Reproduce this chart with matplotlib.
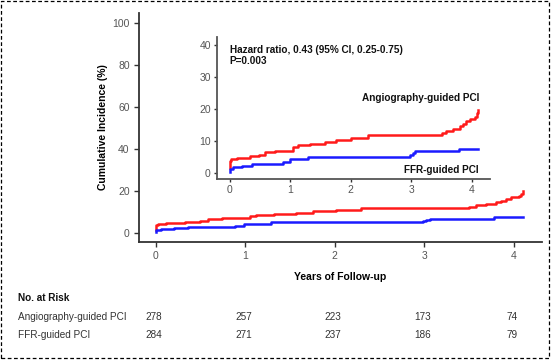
import matplotlib
matplotlib.use("Agg")
import matplotlib.pyplot as plt
from matplotlib.patches import Rectangle
import matplotlib.transforms as mtransforms

plt.rcParams['font.family'] = ['Liberation Sans', 'DejaVu Sans']

# Data
angio_t = [0.0, 0.0, 0.02, 0.12, 0.33, 0.49, 0.58, 0.74, 1.05, 1.12, 1.32, 1.57, 1.76,
           2.01, 2.29, 3.50, 3.58, 3.69, 3.80, 3.86, 3.91, 3.97, 4.06, 4.08, 4.10]
angio_v = [1.5, 3.8, 4.3, 4.8, 5.3, 5.6, 6.5, 7.0, 8.2, 8.8, 9.2, 9.7, 10.3,
           11.0, 11.8, 12.5, 13.1, 13.8, 14.6, 15.4, 16.2, 17.0, 17.4, 18.6, 19.8]
ffr_t = [0.0, 0.0, 0.06, 0.20, 0.36, 0.88, 0.99, 1.29, 2.98, 3.02, 3.06, 3.78, 4.10]
ffr_v = [0.4, 1.2, 1.8, 2.2, 2.8, 3.5, 4.3, 5.0, 5.6, 6.3, 6.7, 7.5, 7.5]

risk_times = [0, 1, 2, 3, 4]
risk_angio = [278, 257, 223, 173, 74]
risk_ffr = [284, 271, 237, 186, 79]
group_names = ["Angiography-guided PCI", "FFR-guided PCI"]

RED = "#ff1a1a"
BLUE = "#1a1aff"
TICKC = "#555555"
SPINEC = "#333333"

fig = plt.figure(figsize=(5.54, 3.60), dpi=100)

# dashed border
fig.patches.append(Rectangle((1/554, 2/360), 548/554, 357/360, transform=fig.transFigure,
                             fill=False, edgecolor="black", linestyle=(0, (3, 2)), linewidth=0.9))

def style(ax):
    for s in ("top", "right"):
        ax.spines[s].set_visible(False)
    for s in ("left", "bottom"):
        ax.spines[s].set_color(SPINEC)
        ax.spines[s].set_linewidth(1.3)
    ax.tick_params(axis="both", colors=SPINEC, labelcolor=TICKC, labelsize=7.5,
                   length=3.5, width=1.0, pad=3)

ax = fig.add_axes([138.7/554, 1-242/360, (541.7-138.7)/554, (242-13)/360])
ax.step(angio_t, angio_v, where="post", color=RED, lw=1.8)
ax.step(ffr_t, ffr_v, where="post", color=BLUE, lw=1.8)
ax.set_xlim(-0.19, 4.31)
ax.set_ylim(-4.3, 104.8)
ax.set_xticks([0, 1, 2, 3, 4])
ax.set_yticks([0, 20, 40, 60, 80, 100])
style(ax)
ax.set_ylabel("Cumulative Incidence (%)", fontsize=7.5, fontweight="bold", labelpad=3)
ax.set_xlabel("Years of Follow-up", fontsize=7.5, fontweight="bold", labelpad=8)

ins = fig.add_axes([217/554, 1-179/360, (490-217)/554, (179-37)/360])
ins.step(angio_t, angio_v, where="post", color=RED, lw=1.8)
ins.step(ffr_t, ffr_v, where="post", color=BLUE, lw=1.8)
ins.set_xlim(-0.21, 4.3)
ins.set_ylim(-1.9, 42.5)
ins.set_xticks([0, 1, 2, 3, 4])
ins.set_yticks([0, 10, 20, 30, 40])
style(ins)
ins.spines["left"].set_color("#555555")
ins.spines["bottom"].set_color("#555555")
ins.tick_params(length=2.5, pad=2)

ins.text(0.0, 38.5, "Hazard ratio, 0.43 (95% CI, 0.25-0.75)", fontsize=7.2, fontweight="bold",
         va="center", ha="left", color="#111111")
ins.text(0.0, 35.0, "P=0.003", fontsize=7.2, fontweight="bold", va="center", ha="left", color="#111111")
ins.text(4.12, 23.3, group_names[0], fontsize=7.2, fontweight="bold", va="center", ha="right", color="#111111")
ins.text(4.12, 1.0, group_names[1], fontsize=7.2, fontweight="bold", va="center", ha="right", color="#111111")

# risk table
trans = mtransforms.blended_transform_factory(ax.transData, fig.transFigure)
fig.text(18/554, 1-298/360, "No. at Risk", fontsize=7.2, fontweight="bold", va="center", ha="left", color="#111111")
fig.text(18/554, 1-317/360, group_names[0], fontsize=7.2, va="center", ha="left", color="#333333")
fig.text(18/554, 1-335/360, group_names[1], fontsize=7.2, va="center", ha="left", color="#333333")
for t, a, f in zip(risk_times, risk_angio, risk_ffr):
    ax.text(t - 0.02, 1-317/360, str(a), transform=trans, fontsize=7.2, va="center", ha="center", color="#333333")
    ax.text(t - 0.02, 1-335/360, str(f), transform=trans, fontsize=7.2, va="center", ha="center", color="#333333")

fig.savefig("out.png", dpi=100)
